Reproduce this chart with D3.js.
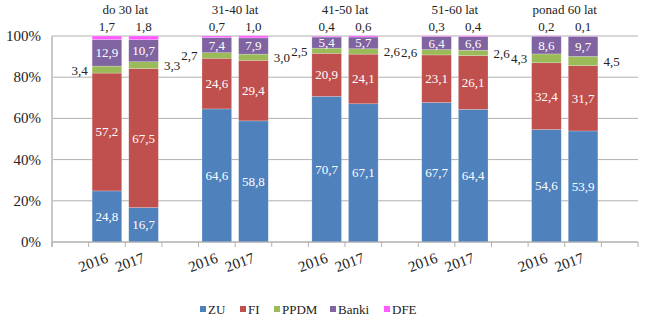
<!DOCTYPE html>
<html>
<head>
<meta charset="utf-8">
<script src="https://cdn.jsdelivr.net/npm/d3@7"></script>
<style>
body { margin: 0; background: #fff; }
</style>
</head>
<body>
<div id="chart"></div>
<script>
// dane
const groups = ["do 30 lat", "31-40 lat", "41-50 lat", "51-60 lat", "ponad 60 lat"]
const years = ["2016", "2017"]
const series = ["ZU", "FI", "PPDM", "Banki", "DFE"]
const colors = ["#4F81BD", "#C0504D", "#9BBB59", "#8064A2", "#FF5BFF"]

// kolejnosc: grupa x rok
const ZU    = [24.8, 16.7, 64.6, 58.8, 70.7, 67.1, 67.7, 64.4, 54.6, 53.9]
const FI    = [57.2, 67.5, 24.6, 29.4, 20.9, 24.1, 23.1, 26.1, 32.4, 31.7]
const PPDM  = [3.4, 3.3, 2.7, 3.0, 2.5, 2.6, 2.6, 2.6, 4.3, 4.5]
const Banki = [12.9, 10.7, 7.4, 7.9, 5.4, 5.7, 6.4, 6.6, 8.6, 9.7]
const DFE   = [1.7, 1.8, 0.7, 1.0, 0.4, 0.6, 0.3, 0.4, 0.2, 0.1]

const yTicks = [0, 20, 40, 60, 80, 100]

const W = 645, H = 327
const mLeft = 52, mRight = 638, mTop = 36, mBottom = 242
const FONT = "Liberation Serif"

const svg = d3.select("#chart").append("svg")
    .attr("width", W)
    .attr("height", H)

// 16 pozycji: puste, 2016, 2017, puste, ...
const x = d3.scaleLinear().domain([0, 16]).range([mLeft, mRight])
const y = d3.scaleLinear().domain([0, 100]).range([mBottom, mTop])

// siatka
svg.append("g")
    .selectAll("line")
    .data(yTicks)
    .enter().append("line")
    .attr("x1", mLeft).attr("x2", mRight)
    .attr("y1", d => y(d)).attr("y2", d => y(d))
    .attr("stroke", "#B0B0B0")
    .attr("stroke-width", 1)

// os y
svg.append("line")
    .attr("x1", mLeft).attr("x2", mLeft)
    .attr("y1", mTop).attr("y2", mBottom + 5)
    .attr("stroke", "#C8C8C8").attr("stroke-width", 2)

svg.append("g")
    .selectAll("text")
    .data(yTicks)
    .enter().append("text")
    .attr("x", 41)
    .attr("y", d => y(d) + 5)
    .attr("text-anchor", "end")
    .attr("font-family", FONT)
    .attr("font-size", 15)
    .attr("fill", "#222")
    .text(d => d + "%")

// dane do slupkow
const table = []
groups.forEach((g, gi) => {
    years.forEach((yr, yi) => {
        const k = gi * 2 + yi
        const vals = [ZU[k], FI[k], PPDM[k], Banki[k], DFE[k]]
        table.push({group: g, year: yr, slot: gi * 3 + 1 + yi, vals: vals})
    })
})

const stack = d3.stack()
    .keys(d3.range(series.length))
    .value((d, key) => d.vals[key])
const layers = stack(table)

const inset = 3.5
svg.append("g")
    .selectAll("g")
    .data(layers)
    .enter().append("g")
    .attr("fill", (d, i) => colors[i])
    .selectAll("rect")
    .data(d => d)
    .enter().append("rect")
    .attr("x", d => x(d.data.slot) + inset)
    .attr("width", d => x(d.data.slot + 1) - x(d.data.slot) - 2 * inset)
    .attr("y", d => y(d[1]))
    .attr("height", d => y(d[0]) - y(d[1]))
    .attr("stroke", "#ffffff")
    .attr("stroke-opacity", 0.35)
    .attr("stroke-width", 0.6)

const fmt = v => v.toFixed(1).replace(".", ",")
const cx = slot => (x(slot) + x(slot + 1)) / 2

// etykiety w srodku: ZU, FI, Banki
const inner = [0, 1, 3]
inner.forEach(si => {
    svg.append("g")
        .selectAll("text")
        .data(layers[si])
        .enter().append("text")
        .attr("x", d => cx(d.data.slot))
        .attr("y", d => y((d[0] + d[1]) / 2) + 4.5)
        .attr("text-anchor", "middle")
        .attr("fill", "#ffffff")
        .attr("font-family", FONT)
        .attr("font-size", 13)
        .text(d => fmt(d.data.vals[si]))
})

// PPDM obok slupkow
svg.append("g")
    .selectAll("text")
    .data(layers[2])
    .enter().append("text")
    .attr("x", d => d.data.year == "2016" ? x(d.data.slot) - 1 : x(d.data.slot + 1) + 2)
    .attr("y", d => y((d[0] + d[1]) / 2) + 5)
    .attr("text-anchor", d => d.data.year == "2016" ? "end" : "start")
    .attr("fill", "#222")
    .attr("font-family", FONT)
    .attr("font-size", 13)
    .text(d => fmt(d.data.vals[2]))

// DFE nad slupkami
svg.append("g")
    .selectAll("text")
    .data(table)
    .enter().append("text")
    .attr("x", d => cx(d.slot))
    .attr("y", 31)
    .attr("text-anchor", "middle")
    .attr("fill", "#222")
    .attr("font-family", FONT)
    .attr("font-size", 13)
    .text(d => fmt(d.vals[4]))

// nazwy grup
svg.append("g")
    .selectAll("text")
    .data(groups)
    .enter().append("text")
    .attr("x", (d, i) => x(i * 3 + 2))
    .attr("y", 14)
    .attr("text-anchor", "middle")
    .attr("fill", "#222")
    .attr("font-family", FONT)
    .attr("font-size", 13)
    .text(d => d)

// os x
svg.append("line")
    .attr("x1", mLeft).attr("x2", mRight)
    .attr("y1", mBottom).attr("y2", mBottom)
    .attr("stroke", "#B0B0B0")

svg.append("g")
    .selectAll("line")
    .data(d3.range(17))
    .enter().append("line")
    .attr("x1", d => x(d)).attr("x2", d => x(d))
    .attr("y1", mBottom).attr("y2", mBottom + 5)
    .attr("stroke", "#B0B0B0")

svg.append("g")
    .selectAll("text")
    .data(table)
    .enter().append("text")
    .attr("transform", d => `translate(${cx(d.slot) - 12},${mBottom + 25}) rotate(-20)`)
    .attr("text-anchor", "middle")
    .attr("fill", "#222")
    .attr("font-family", FONT)
    .attr("font-size", 15)
    .text(d => d.year)

// legenda
const legendX = [200, 240, 274, 330, 384]
const leg = svg.append("g")
    .selectAll("g")
    .data(series)
    .enter().append("g")
    .attr("transform", (d, i) => `translate(${legendX[i]},314)`)
leg.append("rect")
    .attr("x", 0).attr("y", -8)
    .attr("width", 6).attr("height", 6)
    .attr("fill", (d, i) => colors[i])
leg.append("text")
    .attr("x", 8)
    .attr("y", 0)
    .attr("fill", "#222")
    .attr("font-family", FONT)
    .attr("font-size", 13)
    .text(d => d)
</script>
</body>
</html>
